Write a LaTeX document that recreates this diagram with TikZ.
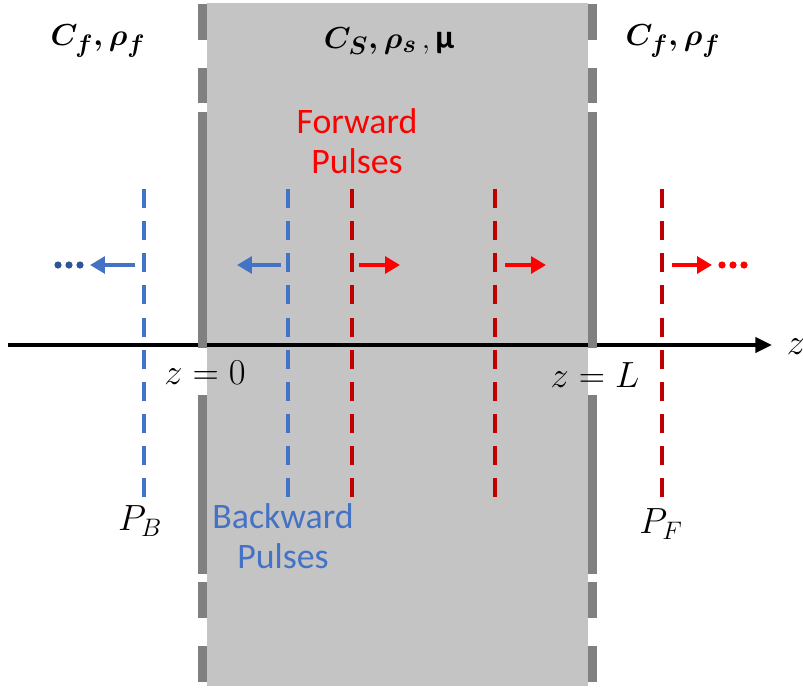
\documentclass[tikz,border=0pt]{standalone}
\usepackage{amsmath, amssymb}
\usepackage{fontspec}
\newfontfamily\calibri{Carlito}
\usepackage{tikz}
\usetikzlibrary{arrows.meta}

\definecolor{pulseblue}{HTML}{4472C4}
\definecolor{pulsered}{HTML}{C00000}
\definecolor{dotblue}{HTML}{2F5597}
\definecolor{slabgray}{HTML}{C4C4C4}
\definecolor{wallgray}{HTML}{808080}

\begin{document}
\begin{tikzpicture}[x=0.02cm,y=-0.02cm,
        wave/.style={line width=2.5pt, dash pattern=on 10.8pt off 7.5pt},
        move/.style={line width=2.8pt, -{Triangle[length=8.5pt,width=9.5pt]}},
        mathlbl/.style={font=\fontsize{20}{24}\selectfont, inner sep=0pt},
        textlbl/.style={font=\calibri\fontsize{20.4}{22.7}\selectfont, align=center, inner sep=0pt}]
        \useasboundingbox (0,0) rectangle (803,687);

        % --- 1. Define Core Parameters ---
        \def\yTop{189}
        \def\yBot{498}
        \def\yArr{265}

        % --- 2. Draw the Slab ---
        \fill[slabgray] (207,3) rectangle (588,686);

        % --- 3. Draw the z Axis ---
        \coordinate (Zstart) at (8,345);
        \coordinate (Zend) at (772,345);
        \draw[line width=2.3pt, -{Triangle[length=9.5pt,width=8.5pt]}] (Zstart) -- (Zend);
        \node[mathlbl] (zlab) at (796,347) {$z$};

        % --- 4. Draw the Interfaces ---
        \foreach \ya/\yb in {4/40, 68/103, 112/348, 395/574, 582/618, 646/682} {
            \fill[wallgray] (198,\ya) rectangle (207,\yb);
            \fill[wallgray] (588,\ya) rectangle (597,\yb);
        }

        % --- 5. Draw the Pulse Fronts ---
        \foreach \x/\c in {144/pulseblue, 288/pulseblue, 352/pulsered, 495/pulsered, 662/pulsered} {
            \draw[wave,\c] (\x,\yTop) -- (\x,\yBot);
        }

        % --- A. Backward Pulses ---
        \coordinate (B1) at (135,\yArr);
        \coordinate (B1tip) at (90,\yArr);
        \coordinate (B2) at (281,\yArr);
        \coordinate (B2tip) at (237,\yArr);
        \draw[move,pulseblue] (B1) -- (B1tip);
        \draw[move,pulseblue] (B2) -- (B2tip);
        \foreach \x in {58,69,80} \fill[dotblue] (\x,\yArr) circle (3.6);

        % --- B. Forward Pulses ---
        \coordinate (F1) at (359,\yArr);
        \coordinate (F1tip) at (400,\yArr);
        \coordinate (F2) at (505,\yArr);
        \coordinate (F2tip) at (546,\yArr);
        \coordinate (F3) at (672,\yArr);
        \coordinate (F3tip) at (712,\yArr);
        \draw[move,red] (F1) -- (F1tip);
        \draw[move,red] (F2) -- (F2tip);
        \draw[move,red] (F3) -- (F3tip);
        \foreach \x in {722,733,744} \fill[red] (\x,\yArr) circle (3.6);

        % --- 6. Label Media ---
        \node[mathlbl,font=\fontsize{19}{23}\selectfont] (fluidL) at (98,41) {$\boldsymbol{C_f,\rho_f}$};
        \node[mathlbl,font=\fontsize{19}{23}\selectfont] (solid) at (389,41) {$\boldsymbol{C_S,\rho_s}\,,\,${\calibri\bfseries μ}};
        \node[mathlbl,font=\fontsize{19}{23}\selectfont] (fluidR) at (673,41) {$\boldsymbol{C_f,\rho_f}$};

        % --- 7. Label Pulses and Positions ---
        \node[textlbl,red] (fwd) at (357,141) {Forward\\Pulses};
        \node[textlbl,pulseblue] (bwd) at (283,536) {Backward\\Pulses};
        \node[mathlbl] (z0) at (205,373) {$z=0$};
        \node[mathlbl] (zL) at (595,375) {$z=L$};
        \node[mathlbl] (PB) at (140,521) {$P_B$};
        \node[mathlbl] (PF) at (661,524) {$P_F$};
\end{tikzpicture}
\end{document}
